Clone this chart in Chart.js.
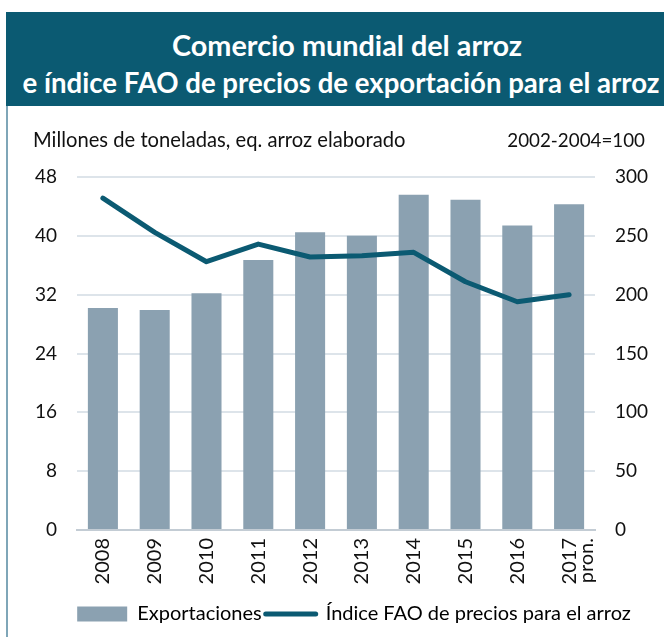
<!DOCTYPE html>
<html>
<head>
<meta charset="utf-8">
<script src="https://cdn.jsdelivr.net/npm/chart.js@4.4.1/dist/chart.umd.min.js"></script>
<style>
  html, body { margin: 0; padding: 0; background: #fff; }
  body { width: 664px; height: 637px; position: relative; overflow: hidden; font-family: Lato, "Open Sans", sans-serif; }
  #banner { position: absolute; left: 6px; top: 12px; width: 658px; height: 94px; background: #0b5a72; z-index: 2; }
  #banner div { position: absolute; left: 0; width: 674px; text-align: center; color: #fff; font-weight: bold; line-height: 32px; white-space: nowrap; }
  #frame { position: absolute; left: 6px; top: 106px; width: 2px; height: 531px; background: #7fa6b8; z-index: 2; }
  .unit { position: absolute; color: #111; z-index: 2; white-space: nowrap; }
  #wrap { position: absolute; left: 0; top: 0; width: 664px; height: 637px; z-index: 1; }
</style>
</head>
<body>
<div id="banner">
  <div id="t1" style="top:17px; font-size:28.8px; left:4px">Comercio mundial del arroz</div>
  <div id="t2" style="top:55px; font-size:27.6px; left:-2px">e índice FAO de precios de exportación para el arroz</div>
</div>
<div id="frame"></div>
<div class="unit" id="uL" style="left:33px; top:127px; font-size:20.2px">Millones de toneladas, eq. arroz elaborado</div>
<div class="unit" id="uR" style="right:19px; top:128px; font-size:18.8px">2002-2004=100</div>
<div id="wrap"><canvas id="c" width="664" height="637"></canvas></div>
<script>
const years = ['2008','2009','2010','2011','2012','2013','2014','2015','2016',['2017','pron.']];
const exportaciones = [30.2, 29.9, 32.2, 36.7, 40.5, 40.0, 45.6, 44.9, 41.4, 44.3];
const indiceFAO = [282, 253, 228, 243, 232, 233, 236, 211, 194, 200];
const leftTicks = [0, 8, 16, 24, 32, 40, 48];
const rightTicks = [0, 50, 100, 150, 200, 250, 300];

const FONT = 'Lato, "Open Sans", sans-serif';
const BAR = '#8ba1b1';
const LINE = '#0b5a72';

new Chart(document.getElementById('c'), {
  data: {
    labels: years,
    datasets: [
      { type: 'line', label: 'Índice FAO de precios para el arroz', data: indiceFAO, yAxisID: 'y2',
        borderColor: LINE, backgroundColor: LINE, borderWidth: 5, pointRadius: 0, tension: 0,
        borderJoinStyle: 'round', borderCapStyle: 'round', order: 0 },
      { type: 'bar', label: 'Exportaciones', data: exportaciones, yAxisID: 'y',
        backgroundColor: BAR, borderWidth: 0, barPercentage: 0.58, categoryPercentage: 1, order: 1 }
    ]
  },
  options: {
    responsive: false,
    devicePixelRatio: 1,
    animation: false,
    layout: { padding: { top: 177, left: 34, right: -10, bottom: 3 } },
    plugins: {
      tooltip: { enabled: false },
      legend: {
        position: 'bottom',
        reverse: true,
        labels: {
          usePointStyle: true,
          pointStyleWidth: 50,
          boxHeight: 15,
          padding: 4,
          color: '#111',
          font: { family: FONT, size: 20 },
          generateLabels: (chart) => chart.data.datasets.map((ds, i) => ({
            text: ds.label,
            fillStyle: ds.type === 'bar' ? BAR : LINE,
            strokeStyle: ds.type === 'bar' ? BAR : LINE,
            lineWidth: ds.type === 'bar' ? 0 : 5,
            lineCap: 'round',
            pointStyle: ds.type === 'bar' ? 'rect' : 'line',
            datasetIndex: i,
            hidden: false
          }))
        }
      }
    },
    scales: {
      x: {
        grid: { display: false, drawTicks: false },
        border: { display: true, color: '#c3ccd4', width: 2 },
        ticks: { maxRotation: 90, minRotation: 90, padding: 8, color: '#111', font: { family: FONT, size: 20, lineHeight: 0.85 } },
        afterFit: (s) => { s.height = 70; }
      },
      y: {
        position: 'left', min: 0, max: 48,
        afterBuildTicks: (s) => { s.ticks = leftTicks.map(v => ({ value: v })); },
        grid: { color: '#dde4ea', lineWidth: 2, drawTicks: false },
        border: { display: false },
        ticks: { padding: 20, color: '#111', font: { family: FONT, size: 19 } },
        afterFit: (s) => { s.width = 43; }
      },
      y2: {
        position: 'right', min: 0, max: 300,
        afterBuildTicks: (s) => { s.ticks = rightTicks.map(v => ({ value: v })); },
        grid: { display: false, drawTicks: false },
        border: { display: false },
        ticks: { padding: 20, color: '#111', font: { family: FONT, size: 19 } },
        afterFit: (s) => { s.width = 79; }
      }
    }
  }
});
</script>
</body>
</html>
